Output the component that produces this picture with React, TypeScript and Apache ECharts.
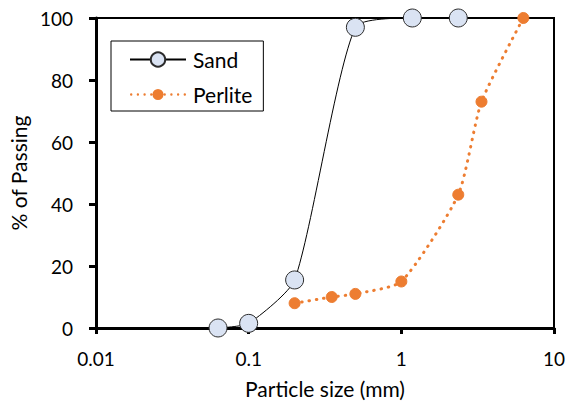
import React, { useEffect, useRef } from "react";
import * as echarts from "echarts";

const sandSize = [0.063, 0.1, 0.2, 0.5, 1.18, 2.36];
const sandPass = [0, 1.5, 15.5, 97, 100, 100];
const perliteSize = [0.2, 0.35, 0.5, 1, 2.36, 3.35, 6.3];
const perlitePass = [8, 10, 11, 15, 43, 73, 100];
const seriesNames = ["Sand", "Perlite"];
const xTitle = "Particle size (mm)";
const yTitle = "% of Passing";

const FONT = "Lato, 'Open Sans', sans-serif";
const ORANGE = "#ED7D31";

function circlePath(cx: number, cy: number, r: number) {
  return `M${cx - r} ${cy}A${r} ${r} 0 1 0 ${cx + r} ${cy}A${r} ${r} 0 1 0 ${cx - r} ${cy}Z`;
}

// dotted line with a marker in the middle, for the Perlite legend entry
function perliteIcon() {
  const w = 56;
  const R = 5.5;
  const r = 1.2;
  const step = (w - 2 * r) / 8;
  let d = "";
  for (let k = 0; k <= 8; k++) {
    if (k === 4) continue;
    d += circlePath(r + k * step, R, r);
  }
  d += circlePath(w / 2, R, R);
  return "path://" + d;
}

export default function App() {
  const ref = useRef<HTMLDivElement>(null);
  useEffect(() => {
    document.body.style.margin = "0";
    if (!ref.current) return;
    const chart = echarts.init(ref.current, undefined, { renderer: "svg" });
    chart.setOption({
      animation: false,
      backgroundColor: "#fff",
      textStyle: { fontFamily: FONT },
      grid: {
        left: 96,
        right: 12,
        top: 18,
        bottom: 74,
        containLabel: false,
        outerBoundsMode: "none",
        show: true,
        borderColor: "#000",
        borderWidth: 2,
      },
      legend: {
        orient: "vertical",
        left: 111,
        top: 41,
        data: [
          { name: seriesNames[0] },
          { name: seriesNames[1], icon: perliteIcon(), itemStyle: { color: ORANGE, borderWidth: 0 } },
        ],
        itemWidth: 56,
        itemHeight: 18,
        itemGap: 14,
        padding: [8, 11, 6, 18],
        borderColor: "#000",
        borderWidth: 1,
        backgroundColor: "#fff",
        textStyle: { fontSize: 21, color: "#000", fontFamily: FONT, padding: [0, 0, 0, 2] },
      },
      xAxis: {
        type: "log",
        logBase: 10,
        min: 0.01,
        max: 10,
        name: xTitle,
        nameLocation: "middle",
        nameGap: 50,
        nameTextStyle: { fontSize: 21, color: "#000", fontFamily: FONT },
        axisLine: { show: true, lineStyle: { color: "#000", width: 3 } },
        axisTick: { show: true, length: 6, lineStyle: { color: "#000", width: 3 } },
        minorTick: { show: false },
        splitLine: { show: false },
        axisLabel: {
          fontSize: 19,
          color: "#000",
          margin: 21,
          fontFamily: FONT,
          formatter: (v: number) => `${parseFloat(Number(v).toPrecision(3))}`,
        },
      },
      yAxis: {
        type: "value",
        min: 0,
        max: 100,
        interval: 20,
        name: yTitle,
        nameLocation: "middle",
        nameGap: 67,
        nameTextStyle: { fontSize: 21, color: "#000", fontFamily: FONT },
        axisLine: { show: true, lineStyle: { color: "#000", width: 3 } },
        axisTick: { show: true, length: 7, lineStyle: { color: "#000", width: 3 } },
        splitLine: { show: false },
        axisLabel: { fontSize: 19, color: "#000", margin: 23, fontFamily: FONT },
      },
      series: [
        {
          name: seriesNames[0],
          type: "line",
          data: sandSize.map((x, i) => [x, sandPass[i]]),
          smooth: 0.2,
          clip: false,
          symbol: "circle",
          symbolSize: 18,
          lineStyle: { color: "#000", width: 1 },
          itemStyle: { color: "#DAE3F3", borderColor: "#2b2b2b", borderWidth: 1 },
          z: 3,
        },
        {
          name: seriesNames[1],
          type: "line",
          data: perliteSize.map((x, i) => [x, perlitePass[i]]),
          smooth: 0.2,
          clip: false,
          symbol: "circle",
          symbolSize: 11,
          lineStyle: { color: ORANGE, width: 3, type: [0.5, 6.8], cap: "round" },
          itemStyle: { color: ORANGE, borderColor: ORANGE, borderWidth: 1 },
          z: 4,
        },
      ],
    });
    return () => chart.dispose();
  }, []);
  return <div ref={ref} style={{ width: 566, height: 402 }} />;
}
